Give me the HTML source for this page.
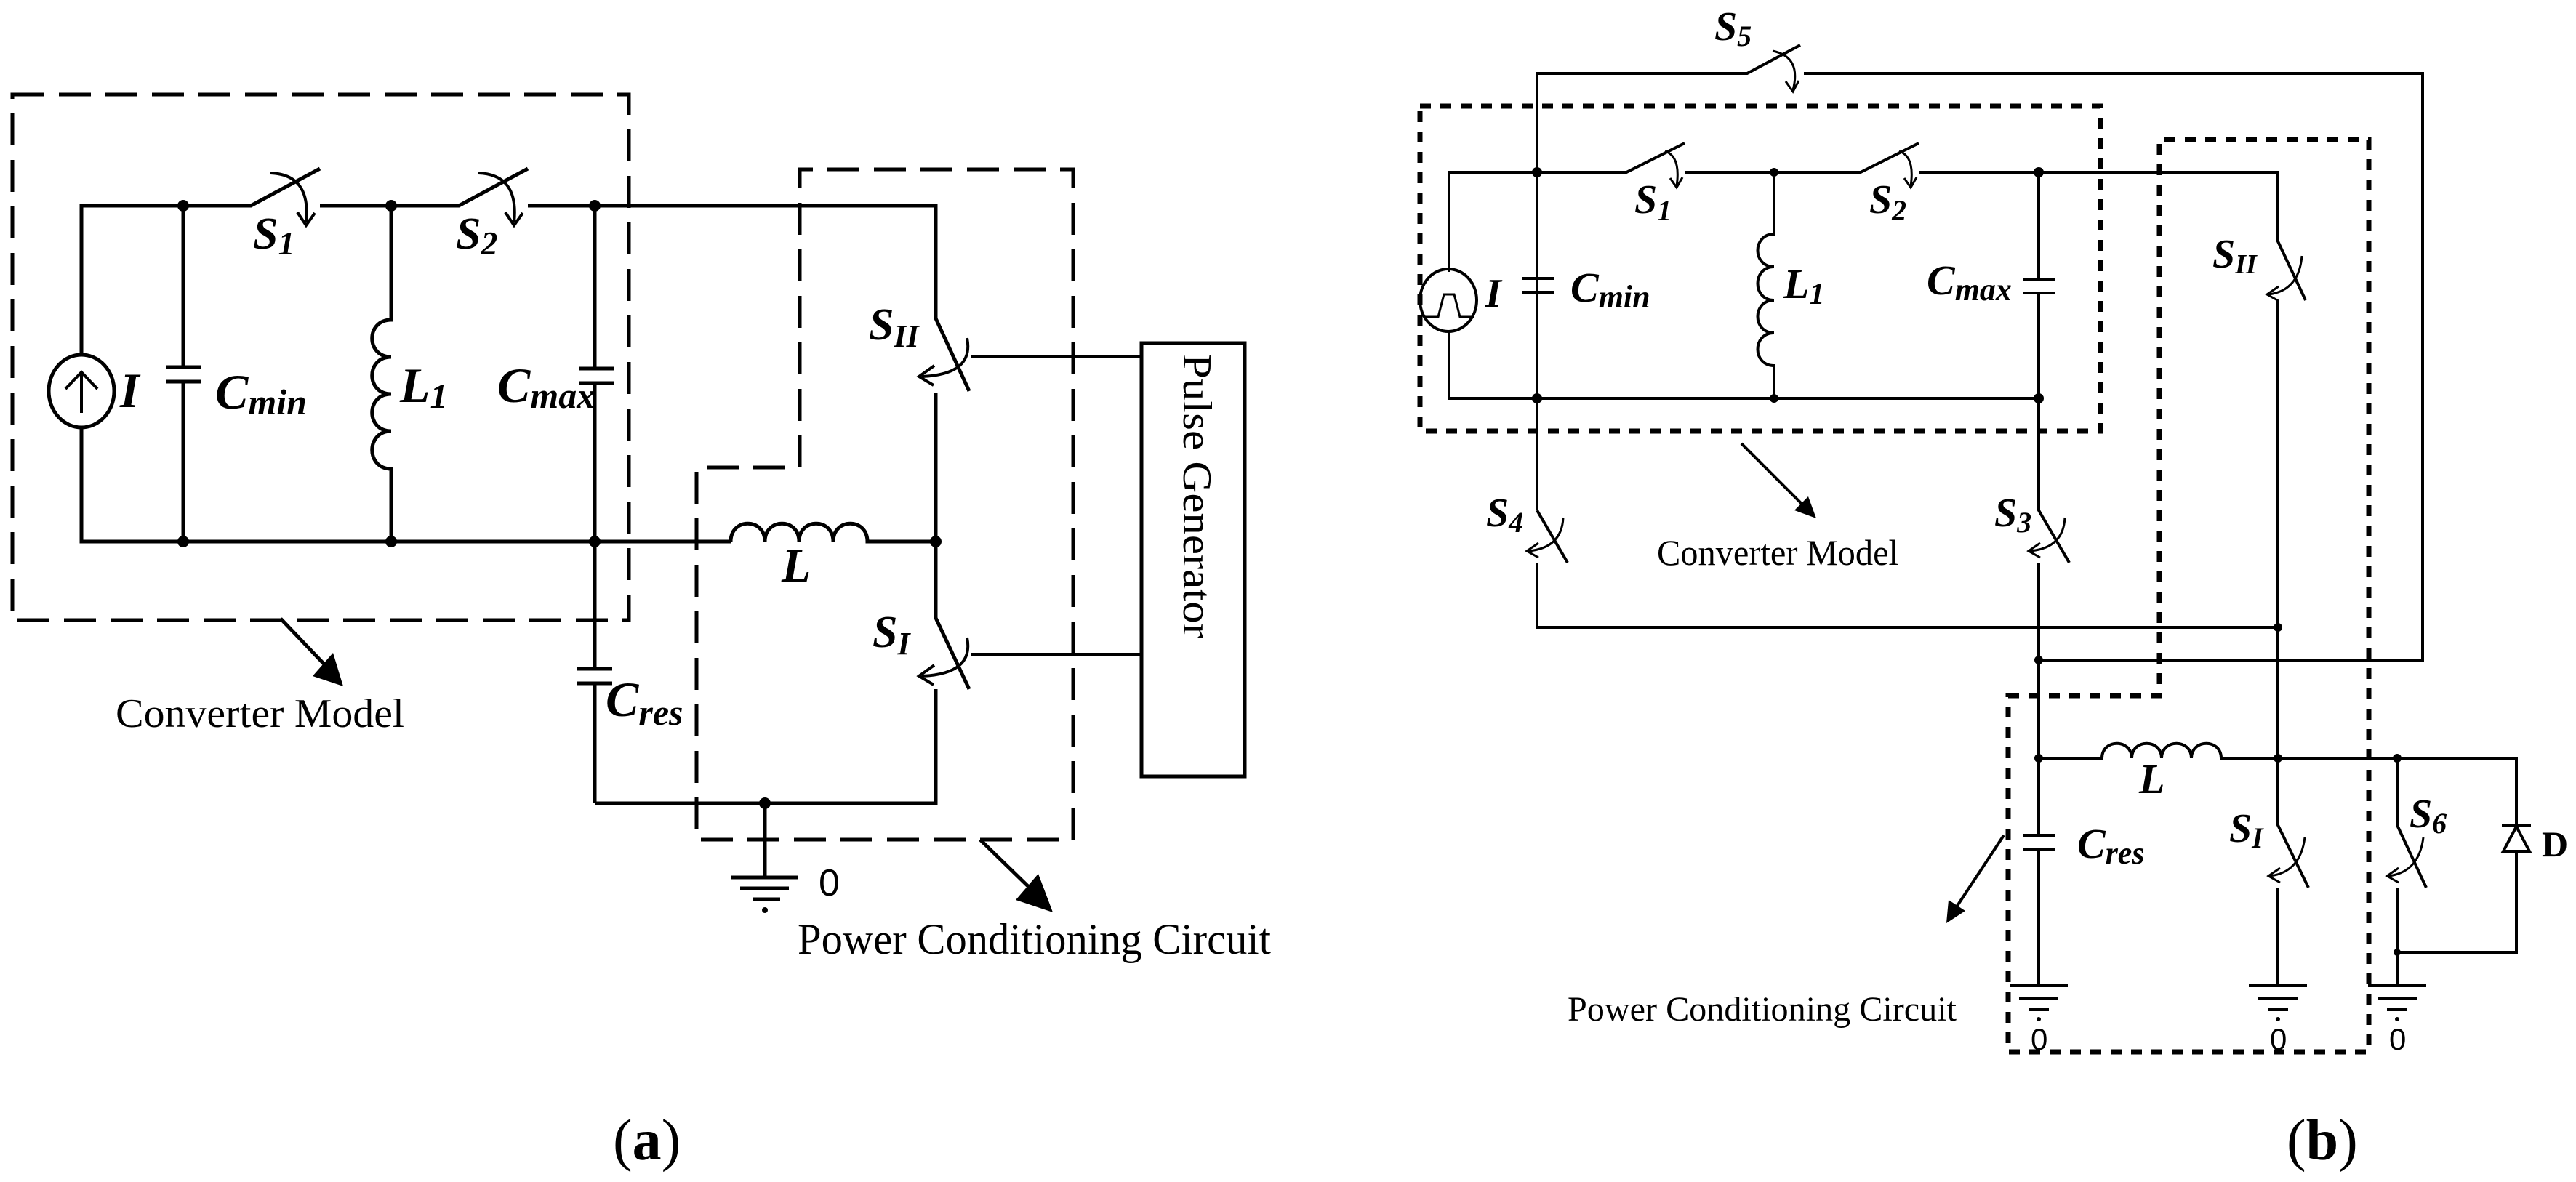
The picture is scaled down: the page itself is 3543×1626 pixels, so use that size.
<!DOCTYPE html>
<html><head><meta charset="utf-8"><style>
html,body{margin:0;padding:0;background:#fff;}
svg{display:block;}
.w{fill:none;stroke:#000;stroke-width:5;stroke-linejoin:miter;}
.wb{fill:none;stroke:#000;stroke-width:4;}
.da{fill:none;stroke:#000;stroke-width:5;stroke-dasharray:44 20;}
.db{fill:none;stroke:#000;stroke-width:7;stroke-dasharray:15 13;}
.lb{font-family:"Liberation Serif",serif;font-weight:bold;font-style:italic;}
.tx{font-family:"Liberation Serif",serif;}
.sn{font-family:"Liberation Sans",sans-serif;}
</style></head><body>
<svg width="3543" height="1626" viewBox="0 0 3543 1626" xmlns="http://www.w3.org/2000/svg">
<rect width="3543" height="1626" fill="#fff"/>
<!-- ================= PANEL A ================= -->
<g>
<rect x="17" y="130" width="848" height="723" class="da"/>
<path d="M1100,643 V233 H1476 V1155 H958 V643 Z" class="da"/>
<!-- top wire and S1,S2 -->
<path class="w" d="M112,488 V283 H345 L440,232"/>
<path class="w" d="M440,283 H631 L726,232"/>
<path class="w" d="M726,283 H1287 V438 L1333,538"/>
<path class="w" d="M1287,540 V850 L1333,948"/>
<path class="w" d="M1287,948 V1105 H818"/>
<!-- switch arrows -->
<path class="w" style="stroke-width:4" d="M372,238 Q428,240 421,306 M409,292 L421,310 L433,293"/>
<path class="w" style="stroke-width:4" d="M658,238 Q714,240 707,306 M695,292 L707,310 L719,293"/>
<path class="w" style="stroke-width:4" d="M1330,465 Q1340,515 1268,518 M1285,503 L1264,518 L1284,530"/>
<path class="w" style="stroke-width:4" d="M1330,877 Q1340,927 1268,930 M1285,915 L1264,930 L1284,942"/>
<!-- source -->
<ellipse cx="112" cy="538" rx="45" ry="50" class="w"/>
<path class="w" style="stroke-width:4" d="M112,568 V512 M90,535 L112,512 L134,535"/>
<path class="w" d="M112,588 V745 H1005"/>
<path class="w" d="M1005,745 C1005,712 1052,712 1052,745 C1052,712 1099,712 1099,745 C1099,712 1146,712 1146,745 C1146,712 1193,712 1193,745 H1287"/>
<!-- Cmin -->
<path class="w" d="M252,283 V505 M228,505 H277 M228,525 H277 M252,525 V745"/>
<!-- L1 -->
<path class="w" d="M538,283 V440 C503,440 503,491 538,491 C503,491 503,542 538,542 C503,542 503,593 538,593 C503,593 503,645 538,645 V745"/>
<!-- Cmax / Cres -->
<path class="w" d="M818,283 V507 M796,507 H845 M796,527 H845 M818,527 V920 M794,920 H842 M794,940 H842 M818,940 V1105"/>
<!-- ground -->
<path class="w" d="M1052,1105 V1207 M1005,1207 H1098 M1018,1222 H1085 M1035,1237 H1073"/>
<circle cx="1052" cy="1252" r="4"/>
<!-- pulse generator -->
<path class="w" style="stroke-width:4" d="M1335,490 H1570 M1335,900 H1570"/>
<rect x="1570" y="472" width="142" height="596" class="w"/>
<text class="tx" font-size="56" transform="translate(1628,487) rotate(90)" textLength="391" lengthAdjust="spacingAndGlyphs">Pulse Generator</text>
<!-- nodes -->
<g fill="#000">
<circle cx="252" cy="283" r="8"/><circle cx="538" cy="283" r="8"/><circle cx="818" cy="283" r="8"/>
<circle cx="252" cy="745" r="8"/><circle cx="538" cy="745" r="8"/><circle cx="818" cy="745" r="8"/>
<circle cx="1287" cy="745" r="8"/><circle cx="1052" cy="1105" r="8"/>
</g>
<!-- arrows -->
<path class="w" d="M386,851 L450,918"/>
<polygon points="472,944 430,930 458,898"/>
<path class="w" d="M1348,1155 L1420,1225"/>
<polygon points="1448,1255 1397,1238 1428,1202"/>
<!-- labels -->
<text class="lb" font-size="68" x="165" y="560">I</text>
<text class="lb" font-size="68" x="296" y="562">C<tspan font-size="50" dy="8">min</tspan></text>
<text class="lb" font-size="68" x="550" y="553">L<tspan font-size="48" dy="8">1</tspan></text>
<text class="lb" font-size="68" x="684" y="553">C<tspan font-size="50" dy="8">max</tspan></text>
<text class="lb" font-size="62" x="348" y="342">S<tspan font-size="46" dy="8">1</tspan></text>
<text class="lb" font-size="62" x="627" y="342">S<tspan font-size="46" dy="8">2</tspan></text>
<text class="lb" font-size="62" x="1195" y="467">S<tspan font-size="44" dy="10">II</tspan></text>
<text class="lb" font-size="62" x="1200" y="890">S<tspan font-size="44" dy="10">I</tspan></text>
<text class="lb" font-size="66" x="1075" y="800">L</text>
<text class="lb" font-size="68" x="833" y="985">C<tspan font-size="50" dy="12">res</tspan></text>
<text class="sn" font-size="52" x="1126" y="1232">0</text>
<text class="tx" font-size="56" x="159" y="1000" textLength="397" lengthAdjust="spacingAndGlyphs">Converter Model</text>
<text class="tx" font-size="60" x="1097" y="1312" textLength="651" lengthAdjust="spacingAndGlyphs">Power Conditioning Circuit</text>
<text class="tx" font-size="80" x="843" y="1595">(<tspan font-weight="bold">a</tspan>)</text>
</g>

<!-- ================= PANEL B ================= -->
<g>
<rect x="1953" y="146" width="936" height="447" class="db"/>
<path d="M2762,957 H2970 V192 H3258 V1447 H2762 Z" class="db"/>
<!-- S5 loop -->
<path class="wb" d="M2114,702 V101 H2403 L2476,62"/>
<path class="wb" d="M2481,101 H3332 V908 H2804"/>
<path class="wb" style="stroke-width:3" d="M2438,70 Q2478,78 2466,124 M2456,112 L2466,126 L2474,111"/>
<!-- top wire -->
<path class="wb" d="M1993,374 V237 H2237 L2317,197"/>
<path class="wb" d="M2318,237 H2559 L2639,197"/>
<path class="wb" d="M2640,237 H3133 V332 L3171,413"/>
<path class="wb" style="stroke-width:3" d="M2290,208 Q2312,215 2306,256 M2297,245 L2306,258 L2314,244"/>
<path class="wb" style="stroke-width:3" d="M2612,208 Q2634,215 2628,256 M2619,245 L2628,258 L2636,244"/>
<!-- source -->
<ellipse cx="1992" cy="413" rx="39" ry="43" class="wb"/>
<path class="wb" style="stroke-width:3" d="M1958,436 H1978 L1986,405 H2000 L2008,436 H2028"/>
<path class="wb" d="M1993,456 V548 H2804"/>
<!-- Cmin -->
<path class="wb" d="M2114,237 V383 M2093,383 H2137 M2093,402 H2137 M2114,402 V548"/>
<!-- L1 -->
<path class="wb" d="M2440,237 V322 C2410,322 2410,367 2440,367 C2410,367 2410,413 2440,413 C2410,413 2410,458 2440,458 C2410,458 2410,503 2440,503 V548"/>
<!-- Cmax -->
<path class="wb" d="M2804,237 V384 M2782,384 H2826 M2782,403 H2826 M2804,403 V702 L2846,774"/>
<!-- S4 -->
<path class="wb" d="M2114,774 V863 H3133"/>
<path class="wb" d="M2114,702 L2156,774"/>
<path class="wb" style="stroke-width:3" d="M2150,712 Q2148,754 2102,758 M2116,747 L2100,758 L2116,767"/>
<!-- S3 -->
<path class="wb" d="M2804,774 V1149 M2782,1149 H2826 M2782,1168 H2826 M2804,1168 V1356"/>
<path class="wb" style="stroke-width:3" d="M2840,712 Q2838,754 2792,758 M2806,747 L2790,758 L2806,767"/>
<!-- SII / SI -->
<path class="wb" d="M3133,413 V1135 L3175,1221 M3133,1221 V1356"/>
<path class="wb" style="stroke-width:3" d="M3166,352 Q3162,400 3120,405 M3134,394 L3118,405 L3134,414"/>
<path class="wb" style="stroke-width:3" d="M3170,1152 Q3164,1200 3122,1205 M3136,1194 L3120,1205 L3136,1214"/>
<!-- L -->
<path class="wb" d="M2804,1043 H2891 C2891,1016 2932,1016 2932,1043 C2932,1016 2973,1016 2973,1043 C2973,1016 3014,1016 3014,1043 C3014,1016 3055,1016 3055,1043 H3461 V1310 H3297"/>
<!-- S6 -->
<path class="wb" d="M3297,1043 V1135 L3337,1221 M3297,1221 V1356"/>
<path class="wb" style="stroke-width:3" d="M3333,1152 Q3327,1200 3285,1205 M3299,1194 L3283,1205 L3299,1214"/>
<!-- diode -->
<polygon points="3461,1137 3443,1171 3479,1171" fill="#fff" stroke="#000" stroke-width="4"/>
<path class="wb" d="M3441,1135 H3481"/>
<!-- grounds -->
<g class="wb">
<path d="M2764,1356 H2844 M2777,1373 H2831 M2790,1389 H2818"/>
<path d="M3093,1356 H3173 M3106,1373 H3160 M3119,1389 H3147"/>
<path d="M3257,1356 H3337 M3270,1373 H3324 M3283,1389 H3311"/>
</g>
<g fill="#000"><circle cx="2804" cy="1402" r="3"/><circle cx="3133" cy="1402" r="3"/><circle cx="3297" cy="1402" r="3"/></g>
<text class="sn" font-size="42" x="2793" y="1444">0</text>
<text class="sn" font-size="42" x="3122" y="1444">0</text>
<text class="sn" font-size="42" x="3286" y="1444">0</text>
<!-- nodes -->
<g fill="#000">
<circle cx="2114" cy="237" r="7"/><circle cx="2440" cy="237" r="6"/><circle cx="2804" cy="237" r="7"/>
<circle cx="2114" cy="548" r="7"/><circle cx="2440" cy="548" r="6"/><circle cx="2804" cy="548" r="7"/>
<circle cx="3133" cy="863" r="6"/><circle cx="2804" cy="908" r="6"/>
<circle cx="2804" cy="1043" r="6"/><circle cx="3133" cy="1043" r="6"/><circle cx="3297" cy="1043" r="6"/>
<circle cx="3297" cy="1310" r="5"/>
</g>
<!-- arrows -->
<path class="wb" d="M2395,610 L2478,693"/>
<polygon points="2498,713 2468,702 2487,683"/>
<path class="wb" d="M2756,1149 L2690,1249"/>
<polygon points="2677,1270 2680,1238 2703,1253"/>
<!-- labels -->
<text class="lb" font-size="56" x="2358" y="55">S<tspan font-size="40" dy="8">5</tspan></text>
<text class="lb" font-size="56" x="2248" y="293">S<tspan font-size="40" dy="10">1</tspan></text>
<text class="lb" font-size="56" x="2571" y="293">S<tspan font-size="40" dy="10">2</tspan></text>
<text class="lb" font-size="56" x="2043" y="422">I</text>
<text class="lb" font-size="58" x="2160" y="415">C<tspan font-size="44" dy="8">min</tspan></text>
<text class="lb" font-size="58" x="2453" y="410">L<tspan font-size="42" dy="8">1</tspan></text>
<text class="lb" font-size="58" x="2650" y="405">C<tspan font-size="44" dy="8">max</tspan></text>
<text class="lb" font-size="56" x="3043" y="368">S<tspan font-size="38" dy="8">II</tspan></text>
<text class="lb" font-size="56" x="2044" y="724">S<tspan font-size="40" dy="8">4</tspan></text>
<text class="lb" font-size="56" x="2743" y="724">S<tspan font-size="40" dy="8">3</tspan></text>
<text class="lb" font-size="58" x="2942" y="1091">L</text>
<text class="lb" font-size="58" x="2857" y="1180">C<tspan font-size="44" dy="8">res</tspan></text>
<text class="lb" font-size="56" x="3066" y="1158">S<tspan font-size="40" dy="8">I</tspan></text>
<text class="lb" font-size="56" x="3314" y="1138">S<tspan font-size="40" dy="8">6</tspan></text>
<text class="tx" font-size="50" font-weight="bold" x="3496" y="1178">D</text>
<text class="tx" font-size="50" x="2279" y="777" textLength="332" lengthAdjust="spacingAndGlyphs">Converter Model</text>
<text class="tx" font-size="48" x="2156" y="1404" textLength="535" lengthAdjust="spacingAndGlyphs">Power Conditioning Circuit</text>
<text class="tx" font-size="80" x="3145" y="1595">(<tspan font-weight="bold">b</tspan>)</text>
</g>
</svg>
</body></html>
